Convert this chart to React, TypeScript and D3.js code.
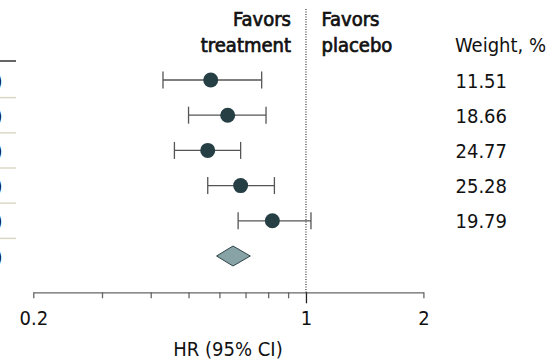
import React, { useEffect, useRef } from 'react';
import * as d3 from 'd3';

// study estimates (HR with 95% CI)
const hr = [0.57, 0.63, 0.56, 0.68, 0.82];
const ciLow = [0.43, 0.5, 0.46, 0.56, 0.67];
const ciHigh = [0.77, 0.79, 0.68, 0.83, 1.03];
const weights = ['11.51', '18.66', '24.77', '25.28', '19.79'];

// pooled estimate
const pooled = { hr: 0.65, lo: 0.59, hi: 0.72 };

const tickValues = [0.2, 0.3, 0.4, 0.5, 0.6, 0.7, 0.8, 0.9, 1, 2];
const tickLabels = [0.2, 1, 2];

const FONT = '"DejaVu Sans Condensed", "DejaVu Sans", sans-serif';

const App = () => {
    const ref = useRef<SVGSVGElement>(null);

    useEffect(() => {
        const svg = d3.select(ref.current);
        svg.selectAll('*').remove();

        const x = d3.scaleLog().domain([0.2, 2]).range([33.3, 423.4]);
        const rows = d3.range(hr.length + 1);
        const y = d3.scalePoint<number>().domain(rows).range([80, 256]);
        const axisY = 292.3;

        const fmt = (v: number) => v.toFixed(2);

        // clipped CI text at the left edge and row rules
        svg.append('line')
            .attr('x1', 0).attr('x2', 16)
            .attr('y1', 61).attr('y2', 61)
            .attr('stroke', '#333').attr('stroke-width', 1.5);

        rows.slice(0, -1).forEach(i => {
            const yy = (y(i)! + y(i + 1)!) / 2;
            svg.append('line')
                .attr('x1', 0).attr('x2', 16)
                .attr('y1', yy).attr('y2', yy)
                .attr('stroke', '#dcd8c8').attr('stroke-width', 1.5);
        });

        const ciText = hr.map((d, i) => `${fmt(d)} (${fmt(ciLow[i])}-${fmt(ciHigh[i])})`);
        ciText.push(`${fmt(pooled.hr)} (${fmt(pooled.lo)}-${fmt(pooled.hi)})`);
        svg.selectAll('text.ci')
            .data(ciText)
            .enter().append('text')
            .attr('class', 'ci')
            .attr('x', 2.5)
            .attr('y', (d, i) => y(i)! + 7.5)
            .attr('text-anchor', 'end')
            .attr('font-family', FONT)
            .attr('font-size', 20)
            .attr('fill', '#111')
            .text(d => d);

        // reference line at HR = 1
        svg.append('line')
            .attr('x1', x(1)).attr('x2', x(1))
            .attr('y1', 9).attr('y2', axisY)
            .attr('stroke', '#333')
            .attr('stroke-width', 1.2)
            .attr('stroke-dasharray', '1,1.5');

        // axis
        const axis = d3.axisBottom(x)
            .tickValues(tickValues)
            .tickSize(6)
            .tickSizeOuter(0)
            .tickPadding(13)
            .tickFormat(d => (tickLabels.includes(+d) ? String(+d) : ''));

        const g = svg.append('g')
            .attr('transform', `translate(0, ${axisY})`)
            .call(axis);
        g.select('.domain').attr('stroke', '#666').attr('stroke-width', 1.3);
        g.selectAll('.tick line').attr('stroke', '#666').attr('stroke-width', 1.3);
        g.selectAll('.tick line').filter((d: any) => d === 1).attr('y2', 11).attr('stroke', '#222');
        g.selectAll('.tick text')
            .attr('font-family', FONT)
            .attr('font-size', 20)
            .attr('fill', '#111')
            .attr('dy', '0.71em');

        svg.append('text')
            .attr('x', 228)
            .attr('y', 356)
            .attr('text-anchor', 'middle')
            .attr('font-family', FONT)
            .attr('font-size', 20)
            .attr('fill', '#111')
            .text('HR (95% CI)');

        // headers (semibold look: book weight with a thin outline)
        const header = (txt: string, xx: number, yy: number, anchor: string, semi: boolean) => {
            const t = svg.append('text')
                .attr('x', xx).attr('y', yy)
                .attr('text-anchor', anchor)
                .attr('font-family', FONT)
                .attr('font-size', 20)
                .attr('fill', '#111')
                .text(txt);
            if (semi) t.attr('stroke', '#111').attr('stroke-width', 0.7);
        };
        header('Favors', 291, 25.5, 'end', true);
        header('treatment', 291, 51.5, 'end', true);
        header('Favors', 321.5, 25.5, 'start', true);
        header('placebo', 321.5, 51.5, 'start', true);
        header('Weight, %', 455, 51.5, 'start', false);

        // CI whiskers and point estimates
        const study = svg.append('g');
        hr.forEach((d, i) => {
            const yy = y(i)!;
            study.append('line')
                .attr('x1', x(ciLow[i])).attr('x2', x(ciHigh[i]))
                .attr('y1', yy).attr('y2', yy)
                .attr('stroke', '#555').attr('stroke-width', 1.3);
            [ciLow[i], ciHigh[i]].forEach(v => {
                study.append('line')
                    .attr('x1', x(v)).attr('x2', x(v))
                    .attr('y1', yy - 8.5).attr('y2', yy + 8.5)
                    .attr('stroke', '#555').attr('stroke-width', 1.3);
            });
            study.append('circle')
                .attr('cx', x(d)).attr('cy', yy)
                .attr('r', 7.5)
                .attr('fill', '#263f45');
        });

        // pooled diamond
        const py = y(hr.length)!;
        svg.append('path')
            .attr('d', `M${x(pooled.lo)},${py} L${x(pooled.hr)},${py - 10} L${x(pooled.hi)},${py} L${x(pooled.hr)},${py + 10} Z`)
            .attr('fill', '#87a3a5')
            .attr('stroke', '#2e4348')
            .attr('stroke-width', 1);

        // weights
        svg.selectAll('text.w')
            .data(weights)
            .enter().append('text')
            .attr('class', 'w')
            .attr('x', 455.5)
            .attr('y', (d, i) => y(i)! + 7.5)
            .attr('font-family', FONT)
            .attr('font-size', 20)
            .attr('fill', '#111')
            .text(d => d);
    }, []);

    return (
        <svg
            ref={ref}
            width={548}
            height={361}
            style={{ position: 'absolute', left: 0, top: 0, background: '#fff' }}
        />
    );
};

export default App;
